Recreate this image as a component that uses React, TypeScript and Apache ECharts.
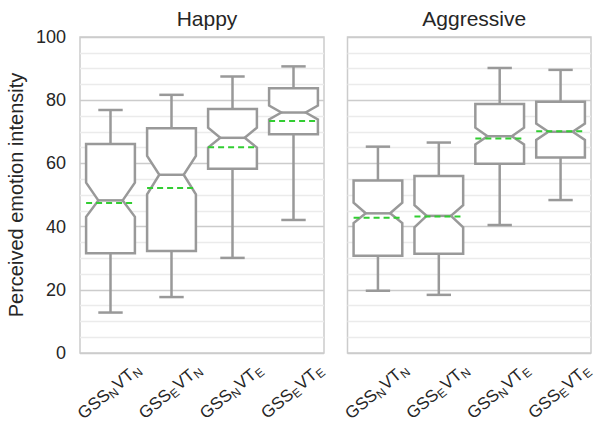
import React, { useEffect, useRef } from "react";
import * as echarts from "echarts";

const categories = ["GSSN VTN", "GSSE VTN", "GSSN VTE", "GSSE VTE"];
const gssSub = ["N", "E", "N", "E"];
const vtSub = ["N", "N", "E", "E"];
const panelTitles = ["Happy", "Aggressive"];
const yTicks = [0, 20, 40, 60, 80, 100];

const happyWhiskerLow = [12.8, 17.7, 30.1, 42.1];
const happyQ1 = [31.6, 32.3, 58.3, 69.2];
const happyNotchLow = [43.1, 50.2, 65.0, 73.9];
const happyMedian = [48.3, 56.4, 68.1, 76.1];
const happyNotchHigh = [53.9, 62.4, 71.3, 78.3];
const happyQ3 = [66.1, 71.1, 77.2, 83.8];
const happyWhiskerHigh = [76.9, 81.7, 87.5, 90.7];
const happyMean = [47.5, 52.2, 65.1, 73.4];

const aggWhiskerLow = [19.7, 18.4, 40.5, 48.4];
const aggQ1 = [30.8, 31.4, 59.9, 61.9];
const aggNotchLow = [41.1, 39.8, 66.0, 67.4];
const aggMedian = [44.2, 43.4, 68.6, 70.0];
const aggNotchHigh = [47.6, 46.8, 71.3, 72.6];
const aggQ3 = [54.6, 56.0, 78.8, 79.5];
const aggWhiskerHigh = [65.3, 66.6, 90.2, 89.6];
const aggMean = [42.8, 43.2, 67.9, 70.2];

const FONT = "'Liberation Sans', Arial, sans-serif";
const BOX = "#999999";
const MEAN = "#32cd32";
const TEXT = "#262626";

function rows(
  wlo: number[], q1: number[], nlo: number[], med: number[],
  nhi: number[], q3: number[], whi: number[], mean: number[]
) {
  return categories.map((_, i) => [i, wlo[i], q1[i], nlo[i], med[i], nhi[i], q3[i], whi[i], mean[i]]);
}

function renderBox(params: any, api: any) {
  const x = api.value(0);
  const band = api.size([1, 0])[0];
  const w = band * 0.8;
  const p = (v: number) => api.coord([x, v]);
  const c = p(api.value(4))[0];
  const L = c - w / 2;
  const R = c + w / 2;
  const y = (k: number) => p(api.value(k))[1];
  const yWlo = y(1), yQ1 = y(2), yNlo = y(3), yMed = y(4), yNhi = y(5), yQ3 = y(6), yWhi = y(7), yMean = y(8);
  const ins = w / 4;
  const stroke = { stroke: BOX, lineWidth: 2.5, fill: null as any };
  return {
    type: "group",
    children: [
      { type: "line", shape: { x1: c, y1: yQ3, x2: c, y2: yWhi }, style: stroke },
      { type: "line", shape: { x1: c - w / 4, y1: yWhi, x2: c + w / 4, y2: yWhi }, style: stroke },
      { type: "line", shape: { x1: c, y1: yQ1, x2: c, y2: yWlo }, style: stroke },
      { type: "line", shape: { x1: c - w / 4, y1: yWlo, x2: c + w / 4, y2: yWlo }, style: stroke },
      {
        type: "polygon",
        shape: {
          points: [
            [L, yQ3], [R, yQ3], [R, yNhi], [R - ins, yMed], [R, yNlo], [R, yQ1],
            [L, yQ1], [L, yNlo], [L + ins, yMed], [L, yNhi],
          ],
        },
        style: { stroke: BOX, lineWidth: 2.5, fill: "#ffffff", lineJoin: "miter" },
      },
      { type: "line", shape: { x1: L + ins, y1: yMed, x2: R - ins, y2: yMed }, style: stroke },
      {
        type: "line",
        shape: { x1: L, y1: yMean, x2: R, y2: yMean },
        style: { stroke: MEAN, lineWidth: 2, lineDash: [6, 4] },
      },
    ],
  };
}

export default function App() {
  const ref = useRef<HTMLDivElement>(null);
  useEffect(() => {
    if (!ref.current) return;
    const chart = echarts.init(ref.current, null, { renderer: "svg" });
    const grids = [
      { left: 80, top: 37, width: 244, height: 316 },
      { left: 347.5, top: 37, width: 243.5, height: 316 },
    ];
    const xAxes = grids.map((_, gi) => ({
      type: "category",
      gridIndex: gi,
      data: categories,
      boundaryGap: true,
      axisLine: { show: false },
      axisTick: { show: false },
      splitLine: { show: false },
      axisLabel: { show: false },
    }));
    const yAxes = grids.map((_, gi) => ({
      type: "value",
      gridIndex: gi,
      min: yTicks[0],
      max: yTicks[yTicks.length - 1],
      interval: 20,
      axisLine: { show: false },
      axisTick: { show: false },
      axisLabel: {
        show: gi === 0,
        fontSize: 18,
        fontFamily: FONT,
        color: TEXT,
        margin: 14,
      },
      splitLine: { show: true, lineStyle: { color: "#cccccc", width: 1.3 } },
      minorTick: { show: false, splitNumber: 4 },
      minorSplitLine: { show: true, lineStyle: { color: "#ebebeb", width: 1.3 } },
      name: gi === 0 ? "Perceived emotion intensity" : "",
      nameLocation: "middle",
      nameGap: 54,
      nameTextStyle: { fontSize: 20, fontFamily: FONT, color: TEXT },
    }));
    chart.setOption({
      animation: false,
      backgroundColor: "#ffffff",
      title: panelTitles.map((t, i) => ({
        text: t,
        left: grids[i].left + grids[i].width / 2,
        top: 3,
        textAlign: "center",
        textStyle: { fontSize: 21, fontWeight: "normal", fontFamily: FONT, color: TEXT },
      })),
      grid: grids.map((g) => ({
        ...g,
        show: true,
        borderColor: "#cccccc",
        borderWidth: 1.5,
        backgroundColor: "transparent",
        containLabel: false,
        outerBoundsMode: "none",
      })),
      xAxis: xAxes,
      yAxis: yAxes,
      series: [
        {
          type: "custom",
          xAxisIndex: 0,
          yAxisIndex: 0,
          renderItem: renderBox,
          encode: { x: 0, y: [1, 2, 3, 4, 5, 6, 7, 8] },
          data: rows(happyWhiskerLow, happyQ1, happyNotchLow, happyMedian, happyNotchHigh, happyQ3, happyWhiskerHigh, happyMean),
          z: 5,
        },
        {
          type: "custom",
          xAxisIndex: 1,
          yAxisIndex: 1,
          renderItem: renderBox,
          encode: { x: 0, y: [1, 2, 3, 4, 5, 6, 7, 8] },
          data: rows(aggWhiskerLow, aggQ1, aggNotchLow, aggMedian, aggNotchHigh, aggQ3, aggWhiskerHigh, aggMean),
          z: 5,
        },
      ],
    });

    const labels: any[] = [];
    grids.forEach((_, gi) => {
      categories.forEach((_c, i) => {
        const pt = chart.convertToPixel({ gridIndex: gi } as any, [i, 0]) as number[];
        labels.push({
          type: "text",
          x: pt[0] - 1,
          y: pt[1] + 38,
          rotation: (40 * Math.PI) / 180,
          z: 10,
          style: {
            text: `{a|GSS}{s|${gssSub[i]}}{a|VT}{s|${vtSub[i]}}`,
            align: "center",
            verticalAlign: "middle",
            fill: TEXT,
            fontFamily: FONT,
            rich: {
              a: { fontSize: 17, fontFamily: FONT, fill: TEXT },
              s: { fontSize: 12, fontFamily: FONT, fill: TEXT, padding: [9, 1, 0, 0] },
            },
          },
        });
      });
    });
    chart.setOption({ graphic: labels });
    return () => chart.dispose();
  }, []);
  return (
    <div
      ref={ref}
      style={{ position: "absolute", left: 0, top: 0, width: 596, height: 423 }}
    />
  );
}
